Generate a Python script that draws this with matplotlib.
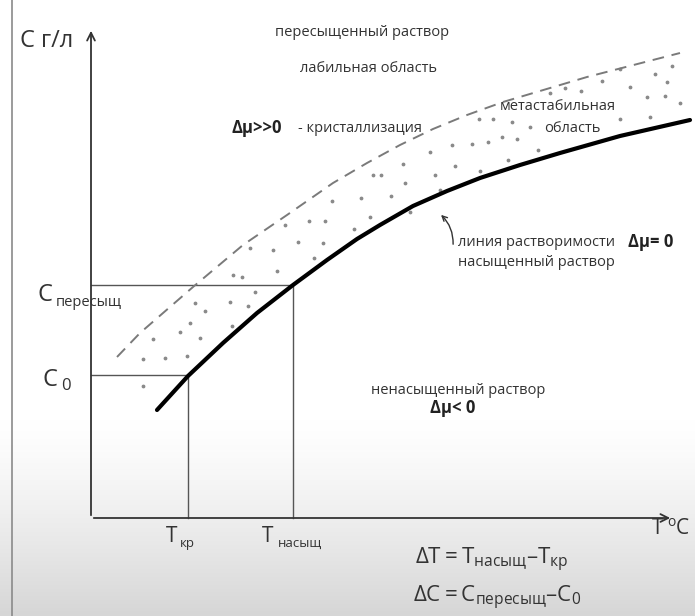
# Диаграмма растворимости: метастабильная область между линией растворимости
# и границей лабильной области (пересыщенный раствор)

import numpy as np
import matplotlib
matplotlib.use("Agg")
import matplotlib.pyplot as plt

plt.rcParams['font.family'] = ['Open Sans', 'DejaVu Sans']
plt.rcParams['mathtext.fontset'] = 'custom'
plt.rcParams['mathtext.rm'] = 'Open Sans'
plt.rcParams['mathtext.it'] = 'Open Sans'
plt.rcParams['mathtext.bf'] = 'Open Sans:bold'

# линия растворимости (T, C) в условных единицах
sol_T = [66, 97, 132, 166, 202, 236, 266, 289, 322, 356, 389, 429, 469, 529, 599]
sol_C = [108, 142, 175, 205, 233, 258, 279, 293, 312, 327, 340, 353, 365, 382, 398]

# граница метастабильной области (штрих)
meta_T = [26, 49, 102, 152, 196, 242, 276, 309, 342, 376, 412, 496, 589]
meta_C = [161, 185, 231, 273, 303, 335, 355, 373, 389, 403, 416, 441, 465]

# точки внутри метастабильной области
dots_T = [312, 282, 290, 314, 241, 270, 300, 194, 218, 234, 279, 263, 207, 232,
          159, 182, 223, 186, 142, 151, 339, 319, 349, 511, 529, 564, 581, 576,
          539, 490, 474, 459, 556, 574, 589, 559, 529, 388, 402, 421, 439, 426,
          411, 397, 381, 361, 447, 417, 364, 389, 344, 164, 104, 114, 139, 157,
          99, 141, 62, 89, 109, 52, 74, 96, 52]
dots_C = [354, 343, 343, 335, 317, 320, 322, 293, 297, 297, 301, 289, 276, 275,
          270, 268, 260, 247, 243, 241, 366, 306, 328, 437, 449, 444, 452, 436,
          431, 427, 430, 425, 421, 422, 415, 401, 399, 399, 399, 396, 391, 379,
          381, 376, 374, 373, 368, 358, 352, 347, 343, 226, 215, 207, 216, 212,
          195, 192, 179, 186, 180, 159, 160, 162, 132]

# характерные точки
T_kr, C_0 = 97, 143
T_sat, C_sup = 202, 233
T_max, C_max = 582, 490

fig = plt.figure(figsize=(6.95, 6.16), dpi=100)
ax = fig.add_axes([0, 0, 1, 1])
ax.set_xlim(-91, 604)
ax.set_ylim(-98, 518)
ax.axis('off')

# серый градиент внизу и рамка слева (как на скриншоте)
grad = np.linspace(0, 1, 200).reshape(-1, 1) ** 1.3
ax.imshow(grad, cmap=matplotlib.colors.LinearSegmentedColormap.from_list(
    'g', ['#ffffff', '#d6d6d6']), extent=[-91, 604, -98, 100],
    aspect='auto', zorder=0)
ax.plot([-79, -79], [-98, 518], color='#8a8a8a', lw=1.2, zorder=1)

# оси
arrow = dict(arrowstyle='->', color='#333333', lw=1.3, mutation_scale=14)
ax.annotate('', xy=(0, C_max), xytext=(0, 0), arrowprops=arrow)
ax.annotate('', xy=(T_max, 0), xytext=(0, 0), arrowprops=arrow)

# вспомогательные линии
ax.plot([0, T_kr, T_kr], [C_0, C_0, 0], color='#555555', lw=1)
ax.plot([0, T_sat, T_sat], [C_sup, C_sup, 0], color='#555555', lw=1)

ax.plot(sol_T, sol_C, color='black', lw=3, solid_capstyle='round',
        solid_joinstyle='round', zorder=3)
ax.plot(meta_T, meta_C, color='#7a7a7a', lw=1.4, dashes=(6, 4), zorder=3)
ax.scatter(dots_T, dots_C, s=3, color='#8a8a8a', zorder=2)

# стрелка к линии растворимости
ax.annotate('', xy=(348, 305), xytext=(362, 271),
            arrowprops=dict(arrowstyle='->', color='#333333', lw=1,
                            connectionstyle='arc3,rad=0.25', mutation_scale=9))

txt = '#333333'
small = 10.5
bold = 12
ax.text(-71, 471, 'С г/л', fontsize=17, color=txt, va='baseline')
ax.text(271, 485, 'пересыщенный раствор', fontsize=small, color=txt,
        ha='center', va='center')
ax.text(277, 450, 'лабильная область', fontsize=small, color=txt,
        ha='center', va='center')
ax.text(140, 390, 'Δμ>>0', fontsize=bold, color='#222222', fontweight='bold',
        va='center')
ax.text(207, 390, '- кристаллизация', fontsize=small, color=txt, va='center')
ax.text(467, 411, 'метастабильная', fontsize=small, color=txt,
        ha='center', va='center')
ax.text(481, 390, 'область', fontsize=small, color=txt, ha='center', va='center')
ax.text(367, 276, 'линия растворимости', fontsize=small, color=txt, va='center')
ax.text(537, 276, 'Δμ= 0', fontsize=bold, color='#222222', fontweight='bold',
        va='center')
ax.text(367, 255, 'насыщенный раствор', fontsize=small, color=txt, va='center')
ax.text(280, 128, 'ненасыщенный раствор', fontsize=small, color=txt,
        va='center')
ax.text(339, 110, 'Δμ< 0', fontsize=bold, color='#222222', fontweight='bold',
        va='center')

# подписи уровней
ax.text(-54, 223, 'С', fontsize=17, color=txt, va='center')
ax.text(-35, 216, 'пересыщ', fontsize=small, color=txt, va='center')
ax.text(-49, 138, 'С', fontsize=17, color=txt, va='center')
ax.text(-30, 132, '0', fontsize=12, color=txt, va='center')
ax.text(75, -19, 'Т', fontsize=15, color=txt, va='center')
ax.text(89, -25, 'кр', fontsize=9.5, color=txt, va='center')
ax.text(171, -19, 'Т', fontsize=15, color=txt, va='center')
ax.text(187, -25, 'насыщ', fontsize=9.5, color=txt, va='center')
ax.text(561, -11, 'Т', fontsize=15, color=txt, va='center')
ax.text(576, -5, 'o', fontsize=10, color=txt, va='center')
ax.text(585, -11, 'С', fontsize=15, color=txt, va='center')

# формулы
ax.text(324, -42, r'$\mathregular{ΔT = Т_{насыщ}–Т_{кр}}$', fontsize=16,
        color=txt, va='center')
ax.text(322, -80, r'$\mathregular{ΔC = С_{пересыщ}–С_{0}}$', fontsize=16,
        color=txt, va='center')

fig.savefig('out.png', dpi=100)
